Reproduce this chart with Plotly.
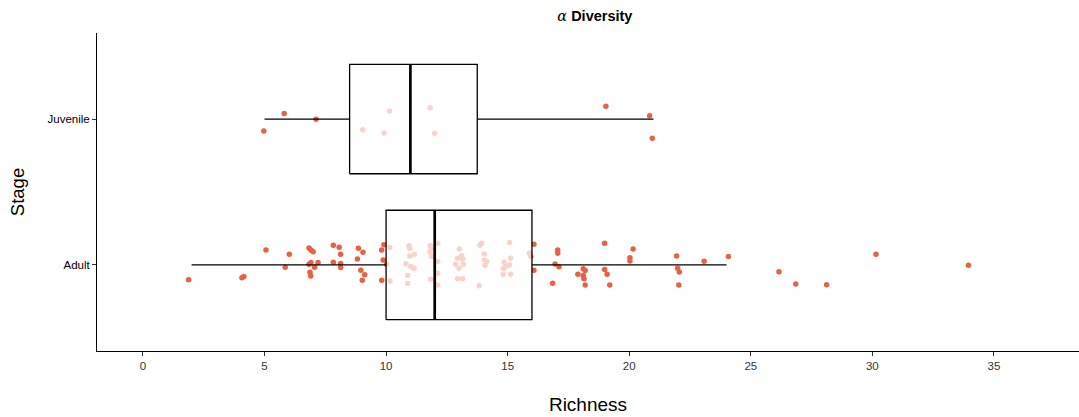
import plotly.graph_objects as go

# Stage categories and their box-plot summaries (Richness)
stages = ["Adult", "Juvenile"]
q1 = [10, 8.5]
median = [12, 11]
q3 = [16, 13.75]
lower_whisker = [2, 5]
upper_whisker = [24, 21]

# Jittered observations: richness (x) and vertical jitter offset
adult_richness = [
    1.88, 4.07, 4.15, 5.06, 5.85, 6.02, 6.83, 6.91, 7.00, 6.91, 6.83, 7.06, 7.20, 6.87, 6.90,
    7.83, 8.07, 8.13, 7.83, 8.13, 8.13, 8.86, 9.05, 8.82, 8.96, 9.12, 9.02, 9.91, 9.82, 9.88, 9.82,
    10.16, 10.16, 10.02, 10.94, 10.98, 11.16, 10.98, 10.82, 11.02, 11.15, 10.89, 10.89,
    11.81, 12.12, 11.85, 11.81, 11.87, 12.12, 12.12, 11.83, 12.12,
    13.01, 12.94, 13.11, 13.15, 12.86, 13.00, 13.18, 12.94, 13.15,
    13.86, 13.93, 14.04, 14.04, 14.14, 14.07, 13.83,
    15.08, 15.12, 14.85, 14.92, 14.82, 15.07, 14.82, 15.12, 15.89, 15.95,
    16.08, 16.08, 17.06, 17.06, 16.95, 17.11, 16.85, 18.11, 18.19, 17.89, 18.11, 18.14, 18.19,
    18.99, 18.99, 19.09, 19.20, 20.16, 20.03, 20.03, 21.95, 21.99, 22.06, 22.04,
    23.08, 24.08, 26.16, 26.85, 28.12, 30.15, 33.95,
]
adult_jitter = [
    -0.101, -0.087, -0.080, 0.103, -0.016, 0.073, 0.116, 0.103, 0.091, 0.016, 0.005, -0.016, 0.016, -0.050, -0.075,
    0.135, 0.121, 0.073, 0.018, 0.009, -0.018, 0.114, 0.087, 0.041, -0.036, -0.068, -0.105, 0.139, 0.103, 0.034, -0.105,
    0.120, -0.110, 0.005, 0.132, 0.113, 0.073, 0.062, 0.008, -0.010, -0.024, -0.073, -0.128,
    0.134, 0.149, 0.110, 0.087, 0.057, 0.023, -0.057, -0.098, -0.137,
    0.110, 0.046, 0.064, 0.041, 0.005, -0.023, 0.005, -0.094, -0.094,
    0.135, 0.149, 0.075, 0.034, 0.023, -0.003, -0.142,
    0.154, 0.046, 0.018, -0.010, -0.024, -0.001, -0.063, -0.063, 0.080, 0.057,
    0.142, -0.036, 0.103, 0.080, 0.007, -0.012, -0.125, -0.027, -0.039, -0.064, -0.073, -0.094, -0.137,
    0.149, -0.032, -0.064, -0.137, 0.110, 0.050, 0.027, 0.062, -0.023, -0.048, -0.137,
    0.025, 0.057, -0.046, -0.130, -0.135, 0.073, -0.002,
]
juvenile_richness = [5.81, 7.12, 4.97, 10.14, 9.04, 9.92, 11.81, 12.00, 19.04, 20.84, 20.95]
juvenile_jitter = [0.039, -0.002, -0.082, 0.055, -0.073, -0.096, 0.077, -0.098, 0.087, 0.023, -0.132]

# Axis ticks
x_ticks = [0, 5, 10, 15, 20, 25, 30, 35]

POINT_COLOR = "rgb(232,97,68)"
BOX_FILL = "rgba(255,255,255,0.72)"
BOX_WIDTH = 0.75
FONT = "Liberation Sans, Arial, sans-serif"

fig = go.Figure()

# Jittered points, drawn first so the translucent boxes sit over them
point_sets = [(adult_richness, adult_jitter), (juvenile_richness, juvenile_jitter)]
for pos, (xs, dys) in enumerate(point_sets, start=1):
    fig.add_trace(go.Scatter(
        x=xs, y=[pos + d for d in dys], mode="markers",
        marker=dict(size=5.5, color=POINT_COLOR, line=dict(width=0)),
        showlegend=False, hoverinfo="x",
    ))

# Box plots built from the summary statistics (whiskers, box, thick median)
half = BOX_WIDTH / 2
for i, name in enumerate(stages):
    c = i + 1
    # whiskers
    for a, b in ((lower_whisker[i], q1[i]), (q3[i], upper_whisker[i])):
        fig.add_trace(go.Scatter(
            x=[a, b], y=[c, c], mode="lines",
            line=dict(color="black", width=1.3),
            showlegend=False, hoverinfo="skip",
        ))
    # box body
    fig.add_trace(go.Scatter(
        x=[q1[i], q3[i], q3[i], q1[i], q1[i]],
        y=[c - half, c - half, c + half, c + half, c - half],
        mode="lines", fill="toself", fillcolor=BOX_FILL,
        line=dict(color="black", width=1.3),
        showlegend=False, name=name, hoverinfo="name",
    ))
    # median
    fig.add_trace(go.Scatter(
        x=[median[i], median[i]], y=[c - half, c + half], mode="lines",
        line=dict(color="black", width=2.7),
        showlegend=False, hoverinfo="skip",
    ))

fig.update_layout(
    width=1079, height=417,
    margin=dict(l=97, r=0, t=33, b=66),
    paper_bgcolor="white", plot_bgcolor="white",
    font=dict(family=FONT, color="black"),
    title=dict(
        text="<i><span style='font-family:DejaVu Serif, serif'>α</span></i> <b>Diversity</b>",
        x=0.5513, xanchor="center",
        y=1 - 16 / 417, yanchor="middle", font=dict(size=14.5, color="black"),
    ),
    xaxis=dict(
        range=[-1.89, 38.5], tickvals=x_ticks, ticktext=[str(t) for t in x_ticks],
        showgrid=False, zeroline=False, showline=True, linecolor="black", linewidth=1,
        ticks="outside", ticklen=4, tickcolor="#333", tickwidth=1,
        tickfont=dict(size=11.5, color="#333"),
        title=dict(text="Richness", font=dict(size=19, color="black"), standoff=26),
    ),
    yaxis=dict(
        range=[0.41, 2.59], tickvals=[1, 2], ticktext=stages,
        showgrid=False, zeroline=False, showline=True, linecolor="black", linewidth=1,
        ticks="outside", ticklen=4, tickcolor="#333", tickwidth=1,
        tickfont=dict(size=11.5, color="black"),
        title=dict(text="Stage", font=dict(size=18.5, color="black"), standoff=18),
    ),
)

fig.write_html("out.html")
